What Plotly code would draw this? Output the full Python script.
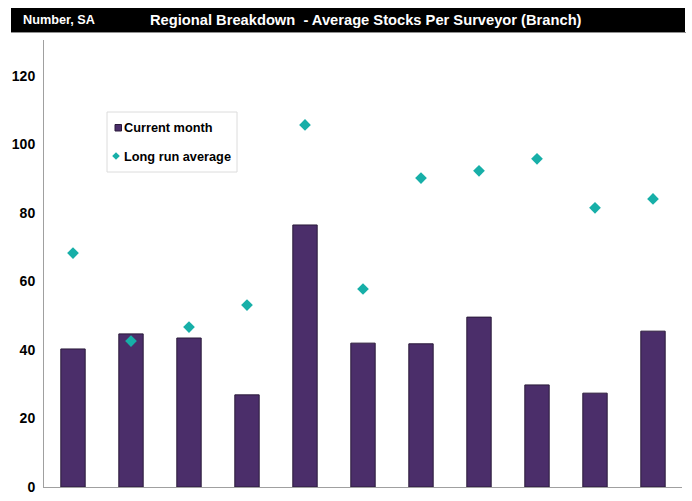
import plotly.graph_objects as go

regions = ["Eng W", "Lon", "South E", "East A", "Wales", "South W", "Y&H", "North", "North W", "West M", "East M"]
current_month = [40.3, 44.7, 43.5, 26.9, 76.5, 42.0, 41.8, 49.6, 29.8, 27.4, 45.5]
long_run_avg = [68.3, 42.6, 46.7, 53.1, 105.7, 57.8, 90.2, 92.3, 95.8, 81.5, 84.1]
y_ticks = [0, 20, 40, 60, 80, 100, 120]

BAR_COLOR = "#4B2E6A"
DOT_COLOR = "#17AFA8"

fig = go.Figure()
fig.add_trace(go.Bar(
    x=regions, y=current_month, name="Current month",
    marker=dict(color=BAR_COLOR, line=dict(color="#2a1a3a", width=1)),
    width=0.42, showlegend=False,
))
fig.add_trace(go.Scatter(
    x=regions, y=long_run_avg, name="Long run average", mode="markers",
    marker=dict(symbol="diamond", color=DOT_COLOR, size=9), showlegend=False,
))

narrow = "DejaVu Sans Condensed, Liberation Sans, Arial, sans-serif"
base = "Liberation Sans, Arial, sans-serif"

W, H = 692, 501
L, R, T, B = 44, 10, 40, 14
pw, ph = W - L - R, H - T - B

def px(x):
    return (x - L) / pw

def py(y):
    return (H - B - y) / ph

# diamond legend path
dcx, dcy, dh = px(116), py(156), 3.8
diamond = (f"M {dcx},{dcy + dh/ph} L {dcx + dh/pw},{dcy} L {dcx},{dcy - dh/ph} "
           f"L {dcx - dh/pw},{dcy} Z")

fig.update_layout(
    width=W, height=H,
    margin=dict(l=L, r=R, t=T, b=B, autoexpand=False),
    paper_bgcolor="white", plot_bgcolor="white",
    showlegend=False,
    xaxis=dict(
        showgrid=False, showline=True, linecolor="#a0a0a0", linewidth=1,
        ticks="", automargin=False,
        tickfont=dict(family=narrow, size=12, color="black"),
        ticklabelstandoff=9,
        range=[-0.5, 10.5],
    ),
    yaxis=dict(
        range=[0, 130.5], tickvals=y_ticks, ticktext=[f"<b>{v}</b>" for v in y_ticks],
        showgrid=False, zeroline=False, automargin=False,
        showline=True, linecolor="#a0a0a0", linewidth=1, ticks="",
        tickfont=dict(family=base, size=14, color="black"),
        ticklabelstandoff=5,
    ),
    shapes=[
        dict(type="rect", xref="paper", yref="paper", x0=px(11), x1=px(685),
             y0=py(32), y1=py(8), fillcolor="black", line=dict(width=0), layer="above"),
        dict(type="line", xref="paper", yref="paper", x0=px(11), x1=px(686),
             y0=py(32.5), y1=py(32.5), line=dict(color="#909090", width=1)),
        dict(type="rect", xref="paper", yref="paper", x0=px(107), x1=px(237),
             y0=py(172), y1=py(112), fillcolor="white", line=dict(color="#dcdcdc", width=1)),
        dict(type="rect", xref="paper", yref="paper", x0=px(115), x1=px(121.5),
             y0=py(131), y1=py(124.5), fillcolor=BAR_COLOR, line=dict(color="#2a1a3a", width=1)),
        dict(type="path", xref="paper", yref="paper", path=diamond,
             fillcolor=DOT_COLOR, line=dict(width=0)),
    ],
    annotations=[
        dict(text="<b>Number, SA</b>", xref="paper", yref="paper", x=px(21), y=py(20),
             xanchor="left", yanchor="middle", showarrow=False,
             font=dict(family=base, size=12.7, color="white")),
        dict(text="<b>Regional Breakdown  - Average Stocks Per Surveyor (Branch)</b>", xref="paper",
             yref="paper", x=px(366), y=py(20), xanchor="center", yanchor="middle", showarrow=False,
             font=dict(family=base, size=14.7, color="white")),
        dict(text="<b>Current month</b>", xref="paper", yref="paper", x=px(122), y=py(127.5),
             xanchor="left", yanchor="middle", showarrow=False,
             font=dict(family=base, size=12.75, color="black")),
        dict(text="<b>Long run average</b>", xref="paper", yref="paper", x=px(122), y=py(156),
             xanchor="left", yanchor="middle", showarrow=False,
             font=dict(family=base, size=12.75, color="black")),
    ],
)

fig.write_html("out.html")
